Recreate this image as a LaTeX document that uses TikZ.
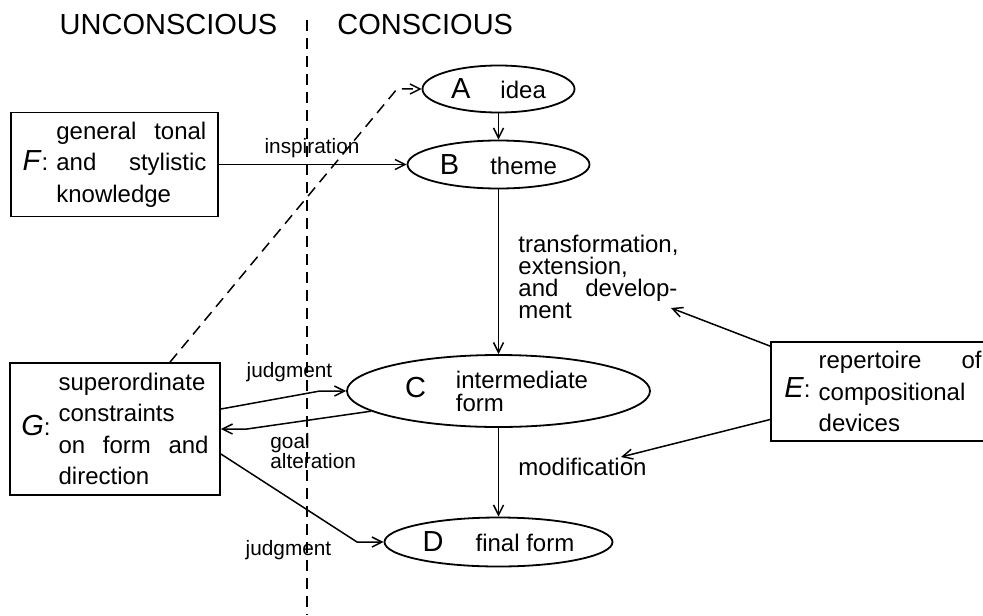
\documentclass[tikz,border=0pt]{standalone}
\usepackage{fontspec}
\setmainfont{Liberation Sans}
\usetikzlibrary{arrows.meta,shapes.geometric}
\newcommand{\bigletter}[1]{{\fontsize{14.5}{14.5}\selectfont #1}}
\newcommand{\boxkey}[1]{{\fontsize{14.5}{14.5}\selectfont\textit{#1}}:\hspace{4pt}}
\newcommand{\jline}[2][\linewidth]{\makebox[#1][s]{#2}}

\begin{document}
\begin{tikzpicture}[x=0.5pt,y=-0.5pt,
  stage/.style={draw,ellipse,line width=0.9pt,inner sep=0pt,font=\fontsize{12}{11.5}\selectfont},
  srcbox/.style={draw,rectangle,line width=0.9pt,inner sep=0pt,font=\fontsize{12}{15.75}\selectfont},
  lbl/.style={inner sep=0pt,font=\fontsize{10.4}{10}\selectfont},
  note/.style={inner sep=0pt,font=\fontsize{12}{11}\selectfont},
  head/.style={inner sep=0pt,font=\fontsize{14.5}{14.5}\selectfont},
  arr/.style={-{Straight Barb[length=5pt,width=5pt]},line width=0.75pt},
  dashline/.style={dash pattern=on 5.5pt off 3.5pt,line width=0.75pt}]
\useasboundingbox (0,0) rectangle (983,615);

\node[head,anchor=base] (unc) at (168.5,35) {UNCONSCIOUS};
\node[head,anchor=base west] (con) at (337,35) {CONSCIOUS};
\coordinate (top) at (307,20);
\coordinate (bot) at (307,615);
\draw[dashline] (top) -- (bot);

\node[stage,minimum width=76pt,minimum height=23.5pt] (A) at (498.5,89) {\bigletter{A}\hspace{15pt}idea};
\node[stage,minimum width=91pt,minimum height=24pt] (B) at (498.5,164.5) {\bigletter{B}\hspace{15.5pt}theme};
\node[stage,minimum width=151.5pt,minimum height=36pt] (C) at (498.5,391) {\bigletter{C}\hspace{15pt}\parbox[c]{68pt}{intermediate\\form}\hspace{4pt}};
\node[stage,minimum width=114pt,minimum height=24.5pt] (D) at (498.5,542) {\bigletter{D}\hspace{16pt}final form};

\node[srcbox,minimum width=103.5pt,minimum height=52pt] (F) at (114.5,164.5) {\boxkey{F}\parbox[c]{75pt}{\jline{general tonal}\\\jline{and stylistic}\\knowledge}};
\node[srcbox,minimum width=105pt,minimum height=66pt] (G) at (115,429) {\boxkey{G}\parbox[c]{75pt}{superordinate\\constraints\\\jline{on form and}\\direction}};
\node[srcbox,minimum width=112pt,minimum height=49.5pt] (E) at (883,391.5) {\boxkey{E}\parbox[c]{81.5pt}{\jline{repertoire of}\\compositional\\devices}};

\node[lbl,anchor=base] (insp) at (312,153) {inspiration};
\node[lbl,anchor=base] (jdg1) at (289.5,377) {judgment};
\node[lbl,anchor=base west,text width=50pt,align=left] (goal) at (270,448) {goal\\alteration};
\node[lbl,anchor=base] (jdg2) at (288.5,555) {judgment};
\node[note,anchor=base west,text width=79.5pt,align=left] (trf) at (518,252) {transformation,\\extension,\\\jline[79.5pt]{and\hfill develop-}\\ment};
\node[note,anchor=base west] (mod) at (518,475) {modification};

\coordinate (dz) at (397,89);
\coordinate (jc) at (320,391);
\coordinate (ga) at (247,429);
\coordinate (jd) at (357,542);
\coordinate (tx) at (671,308);
\coordinate (mx) at (621,457);

\draw[arr] (A) -- (B);
\draw[arr] (B) -- (C);
\draw[arr] (C) -- (D);
\draw[arr] (F.east) -- (B.west);
\draw[arr,dashline] ([xshift=27.5pt]G.north) -- (dz) -- (A.west);
\draw[arr] ([yshift=10pt]G.east) -- (jc) -- (C.west);
\draw[arr] (C.189) -- (ga) -- (G.east);
\draw[arr] ([yshift=-12.5pt]G.east) -- (jd) -- (D.west);
\draw[arr] ([yshift=-2.5pt]E.north west) -- (tx);
\draw[arr] ([yshift=-14pt]E.west) -- (mx);
\end{tikzpicture}
\end{document}
